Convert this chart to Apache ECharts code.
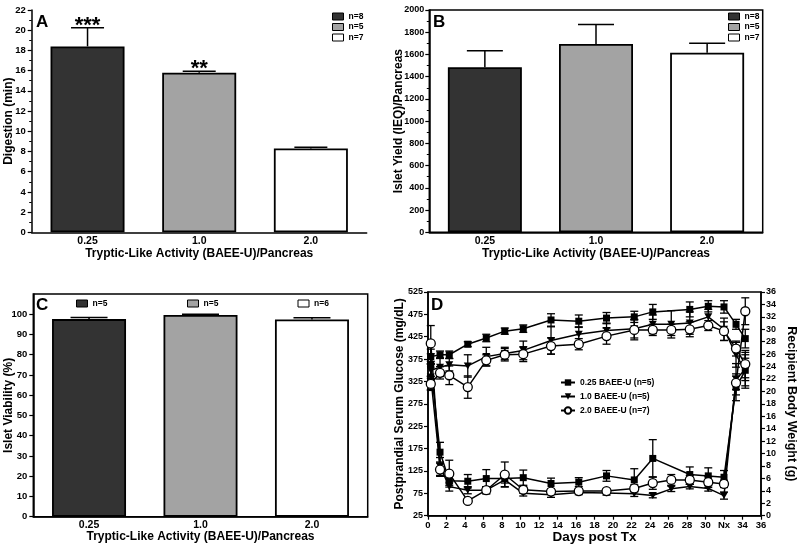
<!DOCTYPE html>
<html><head><meta charset="utf-8">
<script src="https://cdn.jsdelivr.net/npm/echarts@6/dist/echarts.min.js"></script>
<style>html,body{margin:0;padding:0;background:#fff}#c{width:800px;height:548px}</style>
</head><body><div id="c"></div><script>
// ---------- data ----------
const categories = ['0.25', '1.0', '2.0'];
const barColors = ['#333333', '#a3a3a3', '#ffffff'];
// Panel A
const digestionMean = [18.4, 15.8, 8.3];
const digestionSem = [1.85, 0.15, 0.12];
const digestionStars = ['***', '**', ''];
const digestionN = ['n=8', 'n=5', 'n=7'];
// Panel B
const yieldMean = [1485, 1695, 1615];
const yieldSem = [148, 175, 85];
const yieldN = ['n=8', 'n=5', 'n=7'];
// Panel C
const viabilityMean = [97.6, 99.6, 97.4];
const viabilitySem = [0.8, 0.4, 0.9];
const viabilityN = ['n=5', 'n=5', 'n=6'];
// Panel D
const dGroups = ['0.25 BAEE-U (n=5)', '1.0 BAEE-U (n=5)', '2.0 BAEE-U (n=7)'];
const nxDay = 32;
const daysSq = [0.3, 1.3, 2.3, 4.3, 6.3, 8.3, 10.3, 13.3, 16.3, 19.3, 22.3, 24.3, 28.3, 30.3, 32, 33.3, 34.3];
const daysAll = [0.3, 1.3, 2.3, 4.3, 6.3, 8.3, 10.3, 13.3, 16.3, 19.3, 22.3, 24.3, 26.3, 28.3, 30.3, 32, 33.3, 34.3];
const glucSq = [362, 167, 103, 102, 108, 108, 110, 97, 100, 114, 105, 153, 117, 114, 111, 312, 350];
const glucSqErr = [25, 22, 10, 15, 20, 10, 17, 12, 10, 12, 25, 42, 17, 18, 15, 30, 40];
const glucTri = [335, 135, 90, 82, 82, 105, 75, 72, 77, 76, 74, 70, 85, 90, 86, 70, 330, 352];
const glucTriErr = [30, 20, 10, 8, 8, 15, 6, 6, 5, 5, 6, 5, 6, 5, 6, 8, 35, 25];
const glucCirc = [410, 128, 119, 58, 82, 117, 83, 79, 80, 80, 86, 98, 105, 105, 100, 96, 322, 482];
const glucCircErr = [40, 15, 30, 5, 8, 28, 8, 5, 5, 5, 8, 14, 12, 10, 12, 8, 15, 30];
const wtSq = [25.6, 25.9, 25.9, 27.6, 28.6, 29.7, 30.1, 31.5, 31.3, 31.8, 32.0, 32.8, 33.2, 33.7, 33.6, 30.8, 28.5];
const wtSqErr = [1.2, 0.6, 0.6, 0.4, 0.6, 0.5, 0.6, 1.0, 1.0, 0.9, 0.9, 1.2, 1.2, 0.9, 1.0, 0.8, 1.5];
const wtTri = [23.4, 23.9, 24.3, 24.1, 25.6, 26.1, 26.6, 28.2, 29.2, 29.8, 30.1, 30.8, 30.8, 31.0, 32.0, 30.0, 25.9, 23.4];
const wtTriErr = [1.0, 1.5, 1.0, 1.8, 1.5, 1.0, 1.5, 2.2, 1.2, 1.2, 1.5, 1.5, 2.2, 1.8, 1.2, 1.8, 2.0, 2.5];
const wtCirc = [21.2, 23.0, 22.6, 20.7, 25.0, 25.9, 26.0, 27.3, 27.6, 28.9, 29.9, 29.9, 29.9, 30.0, 30.6, 29.7, 26.9, 24.4];
const wtCircErr = [0.9, 1.0, 1.5, 1.8, 0.9, 1.0, 1.2, 1.3, 0.9, 1.3, 1.6, 0.9, 0.9, 1.2, 0.8, 1.5, 1.2, 2.2];

// ---------- styles ----------
const FONT = '"Liberation Sans", Arial, Helvetica, sans-serif';
const axisLineS = { show: true, onZero: false, lineStyle: { color: '#000', width: 1.5 } };
const tickS = (len) => ({ show: true, length: len, lineStyle: { color: '#000', width: 1.2 } });
const lbl = (extra) => Object.assign({ color: '#000', fontWeight: 'bold', fontSize: 9.5, fontFamily: FONT, showMinLabel: true, showMaxLabel: true, hideOverlap: false, formatter: (v) => String(v) }, extra || {});
const nameS = { color: '#000', fontWeight: 'bold', fontSize: 12, fontFamily: FONT };

const chart = echarts.init(document.getElementById('c'), null, { renderer: 'canvas' });

function barSeries(prefix, vals, idx) {
  return vals.map((v, i) => ({
    type: 'bar', name: prefix + (i + 1), xAxisIndex: idx, yAxisIndex: idx,
    data: categories.map((c, j) => (j === i ? v : '-')),
    barWidth: 74, barGap: '-100%',
    itemStyle: { color: barColors[i], borderColor: '#000', borderWidth: 1.8 },
    emphasis: { disabled: true }, z: 2, animation: false
  }));
}
function barErr(vals, errs, idx, hw, stars) {
  return {
    type: 'custom', xAxisIndex: idx, yAxisIndex: idx, z: 3, animation: false, silent: true,
    data: vals.map((v, i) => [i, v, errs[i]]),
    renderItem: (params, api) => {
      const b = api.coord([api.value(0), api.value(1)]);
      const t = api.coord([api.value(0), api.value(1) + api.value(2)]);
      const ch = [
        { type: 'line', shape: { x1: b[0], y1: b[1], x2: t[0], y2: t[1] }, style: { stroke: '#000', lineWidth: 1.5 } },
        { type: 'line', shape: { x1: t[0] - hw, y1: t[1], x2: t[0] + hw, y2: t[1] }, style: { stroke: '#000', lineWidth: 1.5 } }
      ];
      if (stars && stars[params.dataIndex]) {
        ch.push({ type: 'text', x: t[0], y: t[1] - 2, style: { text: stars[params.dataIndex], fontSize: 22, fontWeight: 'bold', fontFamily: FONT, fill: '#000', align: 'center', verticalAlign: 'middle' } });
      }
      return { type: 'group', children: ch };
    }
  };
}
function dErr(days, vals, errs, yIdx) {
  return {
    type: 'custom', xAxisIndex: 3, yAxisIndex: yIdx, z: 2, animation: false, silent: true,
    data: days.map((d, i) => [d, vals[i], errs[i]]),
    renderItem: (params, api) => {
      const lo = api.coord([api.value(0), api.value(1) - api.value(2)]);
      const hi = api.coord([api.value(0), api.value(1) + api.value(2)]);
      const hw = 4;
      const st = { stroke: '#000', lineWidth: 1.3 };
      return { type: 'group', children: [
        { type: 'line', shape: { x1: lo[0], y1: lo[1], x2: hi[0], y2: hi[1] }, style: st },
        { type: 'line', shape: { x1: lo[0] - hw, y1: lo[1], x2: lo[0] + hw, y2: lo[1] }, style: st },
        { type: 'line', shape: { x1: hi[0] - hw, y1: hi[1], x2: hi[0] + hw, y2: hi[1] }, style: st }
      ] };
    }
  };
}
const SYM = [
  { symbol: 'rect', size: 7, fill: '#000', bw: 0 },
  { symbol: 'path://M0,0L10,0L5,9Z', size: [8, 7], fill: '#000', bw: 0 },
  { symbol: 'circle', size: 9, fill: '#fff', bw: 1.3 }
];
function dLine(gi, days, vals, yIdx) {
  const s = SYM[gi];
  return {
    type: 'line', name: 'D' + (gi + 1), xAxisIndex: 3, yAxisIndex: yIdx,
    data: days.map((d, i) => [d, vals[i]]),
    symbol: s.symbol, symbolSize: s.size, showSymbol: true, showAllSymbol: true,
    lineStyle: { color: '#000', width: 1.5 },
    itemStyle: { color: s.fill, borderColor: '#000', borderWidth: s.bw },
    emphasis: { disabled: true }, z: 3 + gi * 0.1, animation: false
  };
}
const barLabels = {};
['A', 'B', 'C'].forEach((p, k) => {
  const arr = [digestionN, yieldN, viabilityN][k];
  arr.forEach((n, i) => { barLabels[p + (i + 1)] = n; });
});
dGroups.forEach((g, i) => { barLabels['D' + (i + 1)] = g; });
const legFmt = (name) => barLabels[name];
const legText = { color: '#000', fontWeight: 'bold', fontSize: 8.5, fontFamily: FONT };
const barLeg = (data, extra) => Object.assign({ data: data, icon: 'rect', padding: 0, itemWidth: 11, itemHeight: 7, formatter: legFmt, textStyle: legText, itemStyle: { borderColor: '#000', borderWidth: 1 }, selectedMode: false }, extra);

const catX = (idx, nameGap) => ({
  type: 'category', gridIndex: idx, data: categories,
  axisLine: axisLineS, axisTick: { show: false },
  axisLabel: lbl({ margin: 3, fontSize: 10.5 }),
  name: 'Tryptic-Like Activity (BAEE-U)/Pancreas', nameLocation: 'middle', nameGap: nameGap, nameMoveOverlap: false, nameTextStyle: nameS
});
const letter = (t, l, tp) => ({ text: t, left: l, top: tp, padding: 0, textStyle: { fontSize: 17, fontWeight: 'bold', color: '#000', fontFamily: FONT } });

const option = {
  backgroundColor: '#fff',
  animation: false,
  title: [letter('A', 36, 14), letter('B', 433, 14), letter('C', 36, 297), letter('D', 431, 297)],
  legend: [
    barLeg(['A1', 'A2', 'A3'], { orient: 'vertical', left: 332, top: 12, itemGap: 1.5 }),
    barLeg(['B1', 'B2', 'B3'], { orient: 'vertical', left: 728, top: 12, itemGap: 1.5 }),
    barLeg(['C1'], { left: 76, top: 299 }),
    barLeg(['C2'], { left: 187, top: 299 }),
    barLeg(['C3'], { left: 297.5, top: 299 }),
    { data: ['D1', 'D2', 'D3'], orient: 'vertical', left: 560, top: 378, padding: 0, itemGap: 5, itemWidth: 14, itemHeight: 8, formatter: legFmt, textStyle: legText, selectedMode: false }
  ],
  grid: [
    { left: 31.7, top: 10, width: 335, height: 222.3, show: false },
    { left: 429.3, top: 10, width: 333.4, height: 222.3, show: true, borderColor: '#000', borderWidth: 1.5, backgroundColor: 'transparent' },
    { left: 33.3, top: 294, width: 334.4, height: 222.7, show: true, borderColor: '#000', borderWidth: 1.5, backgroundColor: 'transparent' },
    { left: 428, top: 292, width: 333, height: 223.7, show: true, borderColor: '#000', borderWidth: 1.5, backgroundColor: 'transparent' }
  ],
  xAxis: [
    catX(0, 15),
    catX(1, 15),
    catX(2, 14),
    {
      type: 'value', gridIndex: 3, min: 0, max: 36, interval: 2,
      axisLine: axisLineS, axisTick: tickS(4), splitLine: { show: false },
      axisLabel: lbl({ margin: 5, formatter: (v) => (v === nxDay ? 'Nx' : String(v)) }),
      name: 'Days post Tx', nameLocation: 'middle', nameGap: 15, nameMoveOverlap: false, nameTextStyle: Object.assign({}, nameS, { fontSize: 13.5 })
    }
  ],
  yAxis: [
    { type: 'value', gridIndex: 0, min: 0, max: 22, interval: 2, axisLine: axisLineS, axisTick: tickS(4), minorTick: { show: true, splitNumber: 2, length: 2.5, lineStyle: { color: '#000', width: 1 } }, splitLine: { show: false }, axisLabel: lbl({ margin: 6 }), name: 'Digestion (min)', nameLocation: 'middle', nameGap: 17, nameMoveOverlap: false, nameTextStyle: nameS },
    { type: 'value', gridIndex: 1, min: 0, max: 2000, interval: 200, axisLine: axisLineS, axisTick: tickS(4), minorTick: { show: true, splitNumber: 2, length: 2.5, lineStyle: { color: '#000', width: 1 } }, splitLine: { show: false }, axisLabel: lbl({ margin: 5, fontSize: 9 }), name: 'Islet Yield (IEQ)/Pancreas', nameLocation: 'middle', nameGap: 25, nameMoveOverlap: false, nameTextStyle: nameS },
    { type: 'value', gridIndex: 2, min: 0, max: 110, interval: 10, axisLine: axisLineS, axisTick: tickS(4), splitLine: { show: false }, axisLabel: lbl({ margin: 6, showMaxLabel: false, formatter: (v) => (v > 100 ? '' : String(v)) }), name: 'Islet Viability (%)', nameLocation: 'middle', nameGap: 19, nameMoveOverlap: false, nameTextStyle: nameS },
    { type: 'value', gridIndex: 3, position: 'left', min: 25, max: 525, interval: 50, axisLine: axisLineS, axisTick: tickS(4), splitLine: { show: false }, axisLabel: lbl({ margin: 5, fontSize: 9 }), name: 'Postprandial Serum Glucose (mg/dL)', nameLocation: 'middle', nameGap: 22, nameMoveOverlap: false, nameTextStyle: nameS },
    { type: 'value', gridIndex: 3, position: 'right', min: 0, max: 36, interval: 2, axisLine: axisLineS, axisTick: tickS(4), splitLine: { show: false }, axisLabel: lbl({ margin: 5, fontSize: 9 }), name: 'Recipient Body Weight (g)', nameLocation: 'middle', nameRotate: -90, nameGap: 24, nameMoveOverlap: false, nameTextStyle: Object.assign({}, nameS, { fontSize: 12.5 }) }
  ],
  series: [].concat(
    barSeries('A', digestionMean, 0),
    [barErr(digestionMean, digestionSem, 0, 16.5, digestionStars)],
    barSeries('B', yieldMean, 1),
    [barErr(yieldMean, yieldSem, 1, 18)],
    barSeries('C', viabilityMean, 2),
    [barErr(viabilityMean, viabilitySem, 2, 18.5)],
    [
      dErr(daysSq, glucSq, glucSqErr, 3),
      dErr(daysAll, glucTri, glucTriErr, 3),
      dErr(daysAll, glucCirc, glucCircErr, 3),
      dErr(daysSq, wtSq, wtSqErr, 4),
      dErr(daysAll, wtTri, wtTriErr, 4),
      dErr(daysAll, wtCirc, wtCircErr, 4),
      dLine(0, daysSq, glucSq, 3),
      dLine(1, daysAll, glucTri, 3),
      dLine(2, daysAll, glucCirc, 3),
      dLine(0, daysSq, wtSq, 4),
      dLine(1, daysAll, wtTri, 4),
      dLine(2, daysAll, wtCirc, 4)
    ]
  )
};
chart.setOption(option);
</script></body></html>
